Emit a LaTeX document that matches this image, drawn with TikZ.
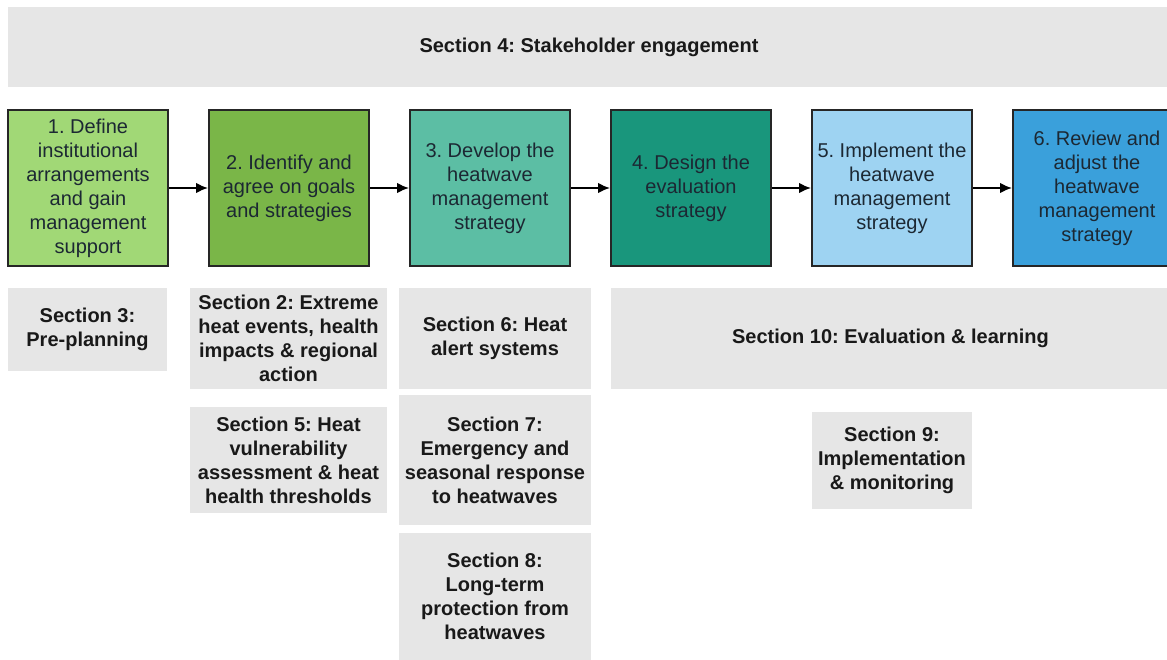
\documentclass[tikz,border=0pt]{standalone}
\usepackage{fontspec}
\setmainfont{Liberation Sans}
\usetikzlibrary{arrows.meta}
\frenchspacing

\definecolor{stepA}{HTML}{A1D876}
\definecolor{stepB}{HTML}{7AB648}
\definecolor{stepC}{HTML}{5CBEA4}
\definecolor{stepD}{HTML}{19967C}
\definecolor{stepE}{HTML}{9ED3F2}
\definecolor{stepF}{HTML}{3AA0DB}
\definecolor{secgray}{HTML}{E6E6E6}
\definecolor{steptext}{HTML}{1C2833}

\tikzset{
  stage/.style={draw=black!85, line width=1.5pt, minimum width=120pt,
    minimum height=117pt, inner sep=0pt, align=center, text=steptext,
    font=\fontsize{15}{18}\selectfont},
  secbox/.style={fill=secgray, inner sep=0pt, align=center, text=black!90,
    font=\bfseries\fontsize{15}{18}\selectfont},
  flow/.style={-{Latex[length=9pt,width=8pt]}, line width=1.5pt}
}

\begin{document}
\begin{tikzpicture}[x=0.75pt,y=-0.75pt]
\useasboundingbox (0,0) rectangle (1167,660);
% stakeholder banner
\node[secbox, minimum width=871.5pt, minimum height=60pt] (sec4) at (589,47) {Section 4: Stakeholder engagement};
% the six steps
\node[stage, fill=stepA] (step1) at (88,188) {1. Define\\institutional\\arrangements\\and gain\\management\\support};
\node[stage, fill=stepB] (step2) at (289,188) {2. Identify and\\agree on goals\\and strategies};
\node[stage, fill=stepC] (step3) at (490,188) {3. Develop the\\heatwave\\management\\strategy};
\node[stage, fill=stepD] (step4) at (691,188) {4. Design the\\evaluation\\strategy};
\node[stage, fill=stepE] (step5) at (892,188) {5. Implement the\\heatwave\\management\\strategy};
\node[stage, fill=stepF, minimum width=126pt] (step6) at (1097,188) {6. Review and\\adjust the\\heatwave\\management\\strategy};
\foreach \a/\b in {step1/step2,step2/step3,step3/step4,step4/step5,step5/step6}
  \draw[flow] (\a) -- (\b);
% sections below
\node[secbox, minimum width=119.25pt, minimum height=62.25pt] (sec3) at (87.5,329.5) {Section 3:\\Pre-planning};
\node[secbox, minimum width=147.75pt, minimum height=75.75pt] (sec2) at (288.5,338.5) {Section 2: Extreme\\heat events, health\\impacts \& regional\\action};
\node[secbox, minimum width=144pt, minimum height=75.75pt] (sec6) at (495,338.5) {Section 6: Heat\\alert systems};
\node[secbox, minimum width=419.25pt, minimum height=75.75pt] (sec10) at (890.5,338.5) {Section 10: Evaluation \& learning};
\node[secbox, minimum width=147.75pt, minimum height=79.5pt] (sec5) at (288.5,460) {Section 5: Heat\\vulnerability\\assessment \& heat\\health thresholds};
\node[secbox, minimum width=144pt, minimum height=97.5pt] (sec7) at (495,460) {Section 7:\\Emergency and\\seasonal response\\to heatwaves};
\node[secbox, minimum width=144pt, minimum height=95.25pt] (sec8) at (495,596.5) {Section 8:\\Long-term\\protection from\\heatwaves};
\node[secbox, minimum width=120pt, minimum height=72.75pt] (sec9) at (892,460.5) {Section 9:\\Implementation\\\& monitoring};
\end{tikzpicture}
\end{document}
